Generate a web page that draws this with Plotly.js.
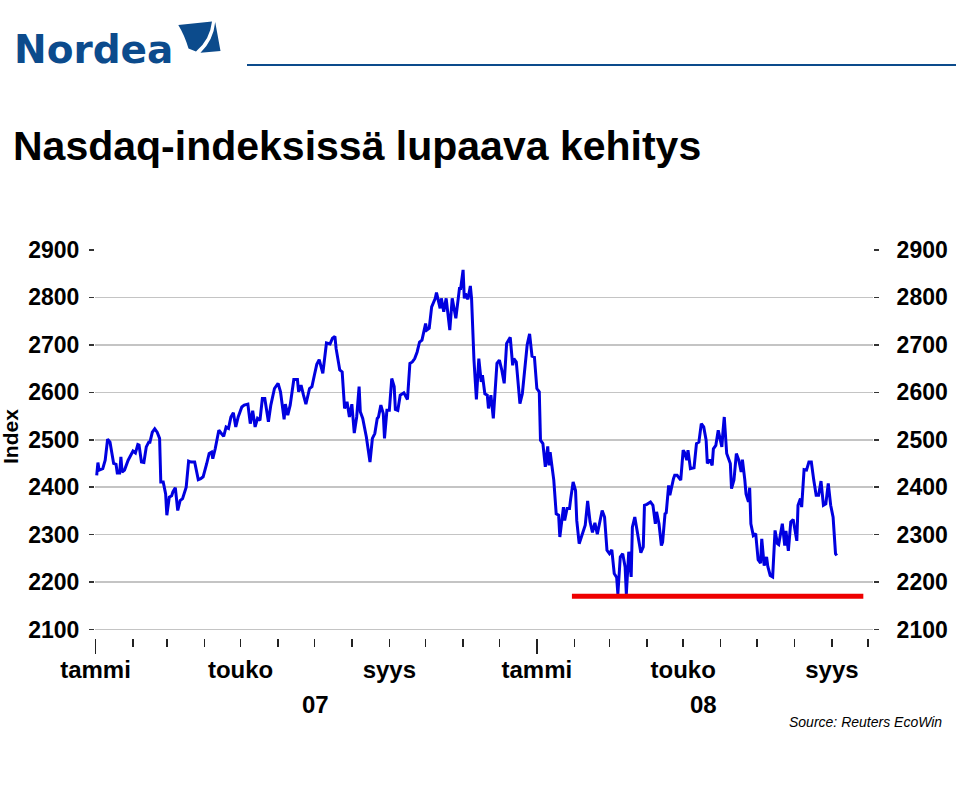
<!DOCTYPE html>
<html><head><meta charset="utf-8">
<script src="https://cdn.plot.ly/plotly-3.0.1.min.js"></script>
<style>html,body{margin:0;padding:0;background:#fff}#chart{width:959px;height:795px}</style>
</head><body><div id="chart"></div>
<script>
// Nasdaq index
const dates2007 = ['2007-01-02','2007-01-03','2007-01-04','2007-01-07','2007-01-09','2007-01-11','2007-01-13','2007-01-16','2007-01-18','2007-01-19','2007-01-21','2007-01-22','2007-01-23','2007-01-25','2007-01-28','2007-01-31',
'2007-02-01','2007-02-03','2007-02-05','2007-02-06','2007-02-08','2007-02-10','2007-02-12','2007-02-14','2007-02-15','2007-02-17','2007-02-19','2007-02-21','2007-02-23','2007-02-24','2007-02-26','2007-02-28',
'2007-03-01','2007-03-03','2007-03-05','2007-03-06','2007-03-08','2007-03-10','2007-03-12','2007-03-14','2007-03-17','2007-03-19','2007-03-21','2007-03-24','2007-03-25','2007-03-27','2007-03-29','2007-03-31',
'2007-04-03','2007-04-05','2007-04-07','2007-04-08','2007-04-10','2007-04-13','2007-04-17','2007-04-19','2007-04-21','2007-04-23','2007-04-25','2007-04-27','2007-04-29',
'2007-05-02','2007-05-04','2007-05-07','2007-05-09','2007-05-11','2007-05-13','2007-05-15','2007-05-17','2007-05-19','2007-05-21','2007-05-24','2007-05-26','2007-05-29',
'2007-06-01','2007-06-03','2007-06-06','2007-06-07','2007-06-09','2007-06-11','2007-06-14','2007-06-17','2007-06-18','2007-06-20','2007-06-22','2007-06-24','2007-06-27','2007-06-29',
'2007-07-01','2007-07-03','2007-07-05','2007-07-08','2007-07-11','2007-07-14','2007-07-16','2007-07-18','2007-07-19','2007-07-22','2007-07-24','2007-07-26','2007-07-28','2007-07-30',
'2007-08-01','2007-08-03','2007-08-05','2007-08-07','2007-08-08','2007-08-10','2007-08-13','2007-08-16','2007-08-18','2007-08-20','2007-08-22','2007-08-23','2007-08-25','2007-08-27','2007-08-28','2007-08-30',
'2007-09-01','2007-09-03','2007-09-05','2007-09-06','2007-09-08','2007-09-10','2007-09-13','2007-09-16','2007-09-18','2007-09-20','2007-09-22','2007-09-24','2007-09-26','2007-09-28',
'2007-10-01','2007-10-02','2007-10-04','2007-10-06','2007-10-09','2007-10-10','2007-10-13','2007-10-14','2007-10-16','2007-10-18','2007-10-21','2007-10-23','2007-10-26','2007-10-29','2007-10-30',
'2007-11-01','2007-11-02','2007-11-03','2007-11-05','2007-11-07','2007-11-08','2007-11-10','2007-11-12','2007-11-14','2007-11-16','2007-11-17','2007-11-19','2007-11-21','2007-11-22','2007-11-24','2007-11-26','2007-11-27','2007-11-29',
'2007-12-01','2007-12-03','2007-12-05','2007-12-07','2007-12-10','2007-12-12','2007-12-13','2007-12-15','2007-12-18','2007-12-20','2007-12-24','2007-12-26','2007-12-28','2007-12-30'];
const values2007 = [2425,2452,2436,2439,2457,2501,2495,2450,2448,2430,2430,2464,2432,2436,2457,2471,
2476,2472,2490,2489,2453,2452,2485,2495,2495,2516,2523,2516,2503,2411,2411,2386,
2341,2379,2382,2390,2399,2351,2372,2376,2400,2455,2453,2453,2439,2416,2418,2422,
2450,2471,2474,2460,2481,2520,2507,2527,2524,2548,2557,2527,2548,
2569,2573,2575,2534,2561,2527,2545,2541,2587,2587,2538,2573,2608,
2619,2601,2543,2575,2552,2573,2627,2627,2601,2615,2594,2575,2608,2612,
2636,2659,2669,2640,2704,2702,2714,2718,2692,2647,2643,2566,2580,2548,
2575,2514,2548,2612,2559,2545,2506,2453,2503,2513,2545,2548,2573,2555,2503,2562,
2562,2629,2612,2564,2562,2594,2599,2585,2661,2664,2671,2685,2706,2710,
2745,2731,2735,2780,2798,2810,2777,2798,2770,2798,2731,2798,2756,2819,2819,
2858,2798,2808,2796,2824,2798,2668,2585,2671,2622,2636,2597,2594,2566,2594,2545,2580,2661,
2668,2647,2619,2703,2716,2657,2671,2664,2576,2597,2700,2723,2676,2674];
const dates2008 = ['2008-01-01','2008-01-03','2008-01-04','2008-01-06','2008-01-08','2008-01-10','2008-01-11','2008-01-12','2008-01-15','2008-01-17','2008-01-19','2008-01-20','2008-01-23','2008-01-24','2008-01-26','2008-01-28','2008-01-29','2008-01-31',
'2008-02-02','2008-02-03','2008-02-05','2008-02-08','2008-02-10','2008-02-12','2008-02-14','2008-02-16','2008-02-18','2008-02-20','2008-02-22','2008-02-24','2008-02-26','2008-02-28',
'2008-03-01','2008-03-03','2008-03-05','2008-03-07','2008-03-08','2008-03-10','2008-03-12','2008-03-14','2008-03-15','2008-03-17','2008-03-19','2008-03-20','2008-03-22','2008-03-25','2008-03-27','2008-03-29','2008-03-30',
'2008-04-01','2008-04-04','2008-04-06','2008-04-08','2008-04-09','2008-04-11','2008-04-13','2008-04-14','2008-04-16','2008-04-17','2008-04-19','2008-04-20','2008-04-23','2008-04-24','2008-04-26','2008-04-29',
'2008-05-01','2008-05-02','2008-05-04','2008-05-05','2008-05-07','2008-05-10','2008-05-12','2008-05-14','2008-05-16','2008-05-18','2008-05-20','2008-05-21','2008-05-23','2008-05-25','2008-05-26','2008-05-28','2008-05-30',
'2008-06-01','2008-06-02','2008-06-03','2008-06-04','2008-06-06','2008-06-09','2008-06-10','2008-06-12','2008-06-14','2008-06-16','2008-06-18','2008-06-19','2008-06-21','2008-06-22','2008-06-24','2008-06-25','2008-06-26','2008-06-28','2008-06-30',
'2008-07-02','2008-07-04','2008-07-05','2008-07-07','2008-07-09','2008-07-10','2008-07-12','2008-07-14','2008-07-16','2008-07-18','2008-07-19','2008-07-22','2008-07-24','2008-07-25','2008-07-27','2008-07-29','2008-07-31',
'2008-08-03','2008-08-04','2008-08-06','2008-08-07','2008-08-09','2008-08-11','2008-08-13','2008-08-15','2008-08-17','2008-08-19','2008-08-21','2008-08-23','2008-08-25','2008-08-27','2008-08-29','2008-08-31',
'2008-09-02','2008-09-04','2008-09-05'];
const values2008 = [2608,2601,2499,2492,2443,2486,2446,2474,2415,2344,2341,2295,2358,2330,2355,2355,2376,2411,
2393,2330,2281,2302,2320,2371,2327,2305,2325,2301,2330,2351,2337,2267,
2260,2268,2218,2210,2175,2253,2260,2232,2175,2264,2211,2316,2337,2295,2262,2274,2362,
2364,2369,2362,2323,2348,2323,2277,2284,2344,2346,2404,2383,2418,2425,2425,2415,
2478,2474,2457,2478,2439,2441,2492,2495,2534,2527,2499,2450,2458,2446,2481,2488,2520,
2495,2485,2520,2548,2471,2450,2397,2415,2471,2457,2432,2458,2415,2386,2369,2399,2323,2298,2302,
2247,2240,2291,2235,2253,2233,2214,2211,2309,2281,2279,2323,2277,2308,2266,2327,2332,
2287,2362,2376,2358,2437,2436,2453,2453,2415,2383,2383,2413,2362,2365,2408,2362,
2337,2260,2256];

// red support line
const supportLevel = 2170;
const supportDates = ['2008-01-30','2008-09-27'];

const yTicks = [2100,2200,2300,2400,2500,2600,2700,2800,2900];
const monthTicks = ['2007-01-01','2007-02-01','2007-03-01','2007-04-01','2007-05-01','2007-06-01','2007-07-01','2007-08-01','2007-09-01','2007-10-01','2007-11-01','2007-12-01',
'2008-01-01','2008-02-01','2008-03-01','2008-04-01','2008-05-01','2008-06-01','2008-07-01','2008-08-01','2008-09-01','2008-10-01'];
const monthLabels = ['tammi','','','','touko','','','','syys','','','','tammi','','','','touko','','','','syys',''];
const yearTicks = ['2007-01-01','2008-01-01'];
const yearLabels = ['07','08'];
const yearLabelPos = ['2007-07-02','2008-05-18'];

const FONT = 'Liberation Sans, Arial, sans-serif';
const L = 95, R = 873, T = 249, B = 638;
const xp = px => (px - L) / (R - L);
const yp = py => (B - py) / (B - T);
function path(cmds){ // pixel path -> paper path
  return cmds.map(c => c[0] + (c.length>1 ? c.slice(1).map((v,i)=> i%2===0 ? xp(v).toFixed(5) : yp(v).toFixed(5)).reduce((a,v,i)=> a + (i===0?'':(i%2? ',':' ')) + v,'') : '')).join(' ');
}
const blue = '#0c4b8c';
const xRange = ['2006-12-31 14:00','2008-10-05'];
const yRange = [2097, 2902];

const traces = [
  {x: dates2007.concat(dates2008), y: values2007.concat(values2008), type:'scatter', mode:'lines',
   line:{color:'#0000e0', width:3}, xaxis:'x', yaxis:'y', hoverinfo:'skip'},
  {x: supportDates, y: [supportLevel, supportLevel], type:'scatter', mode:'lines',
   line:{color:'#ee0000', width:5}, xaxis:'x2', yaxis:'y2', hoverinfo:'skip'}
];

const tickFont = {family: FONT, size: 23, color:'#000', weight:'bold'};
const layout = {
  width: 959, height: 795,
  margin: {l: L, r: 959 - R, t: T, b: 795 - B, pad: 0},
  paper_bgcolor:'#fff', plot_bgcolor:'#fff', showlegend:false,
  xaxis: {type:'date', range: xRange, anchor:'free', position:0, tickmode:'array',
    tickvals: monthTicks, ticktext: monthLabels, ticks:'outside', ticklen:8, tickwidth:1.5, tickcolor:'#222',
    showgrid:false, zeroline:false, showline:false, tickangle:0,
    tickfont:{family:FONT, size:24, color:'#000', weight:'bold'}, ticklabelstandoff: 2},
  xaxis2: {type:'date', range: xRange, overlaying:'x', anchor:'free', position:0, tickmode:'array',
    tickvals: yearTicks, ticktext:['',''], ticks:'outside', ticklen:15, tickwidth:1.5, tickcolor:'#222',
    showticklabels:false, showgrid:false, zeroline:false, showline:false},
  yaxis: {range: yRange, domain:[(B-631)/(B-T), 1], tickmode:'array', tickvals: yTicks,
    ticks:'outside', ticklen:5, tickwidth:1.5, tickcolor:'#333',
    showgrid:true, gridcolor:'#c4c4c4', gridwidth:1.5, zeroline:false, showline:false,
    tickfont: tickFont, ticklabelstandoff: 5},
  yaxis2: {range: yRange, overlaying:'y', side:'right', anchor:'x2', tickmode:'array', tickvals: yTicks,
    ticks:'outside', ticklen:5, tickwidth:1.5, tickcolor:'#333',
    showgrid:false, zeroline:false, showline:false, tickfont: tickFont, ticklabelstandoff: 13},
  shapes: [
    {type:'line', xref:'paper', yref:'paper', x0: xp(247), x1: xp(956), y0: yp(65), y1: yp(65), line:{color: blue, width:2}},
    {type:'path', xref:'paper', yref:'paper', fillcolor: blue, line:{width:0},
     path: path([['M',178.3,25],['L',212,21.6],['Q',210,40,196,51.5],['L',188.5,48.5],['Q',184.5,35,178.3,25],['Z']])},
    {type:'path', xref:'paper', yref:'paper', fillcolor: blue, line:{width:0},
     path: path([['M',215.2,22],['L',220.5,51],['L',200.5,52.8],['Q',213.5,40,215.2,22],['Z']])}
  ],
  annotations: [
    {text:'Nordea', xref:'paper', yref:'paper', x: xp(12), y: yp(49), xanchor:'left', yanchor:'middle', showarrow:false,
     font:{family:'DejaVu Sans, sans-serif', size:39, color: blue, weight:'bold'}},
    {text:'Nasdaq-indeksissä lupaava kehitys', xref:'paper', yref:'paper', x: xp(11), y: yp(146), xanchor:'left', yanchor:'middle', showarrow:false,
     font:{family:FONT, size:41, color:'#000', weight:'bold'}},
    {text:'Index', xref:'paper', yref:'paper', x: xp(10), y: yp(437), xanchor:'center', yanchor:'middle', textangle:-90, showarrow:false,
     font:{family:FONT, size:21, color:'#000', weight:'bold'}},
    {text: yearLabels[0], xref:'x', yref:'paper', x: yearLabelPos[0], y: yp(704), xanchor:'center', yanchor:'middle', showarrow:false,
     font:{family:FONT, size:24, color:'#000', weight:'bold'}},
    {text: yearLabels[1], xref:'x', yref:'paper', x: yearLabelPos[1], y: yp(704), xanchor:'center', yanchor:'middle', showarrow:false,
     font:{family:FONT, size:24, color:'#000', weight:'bold'}},
    {text:'Source: Reuters EcoWin', xref:'paper', yref:'paper', x: xp(944), y: yp(722), xanchor:'right', yanchor:'middle', showarrow:false,
     font:{family:FONT, size:14, color:'#000', style:'italic'}}
  ]
};
Plotly.newPlot('chart', traces, layout, {staticPlot:true, displayModeBar:false});
</script></body></html>
